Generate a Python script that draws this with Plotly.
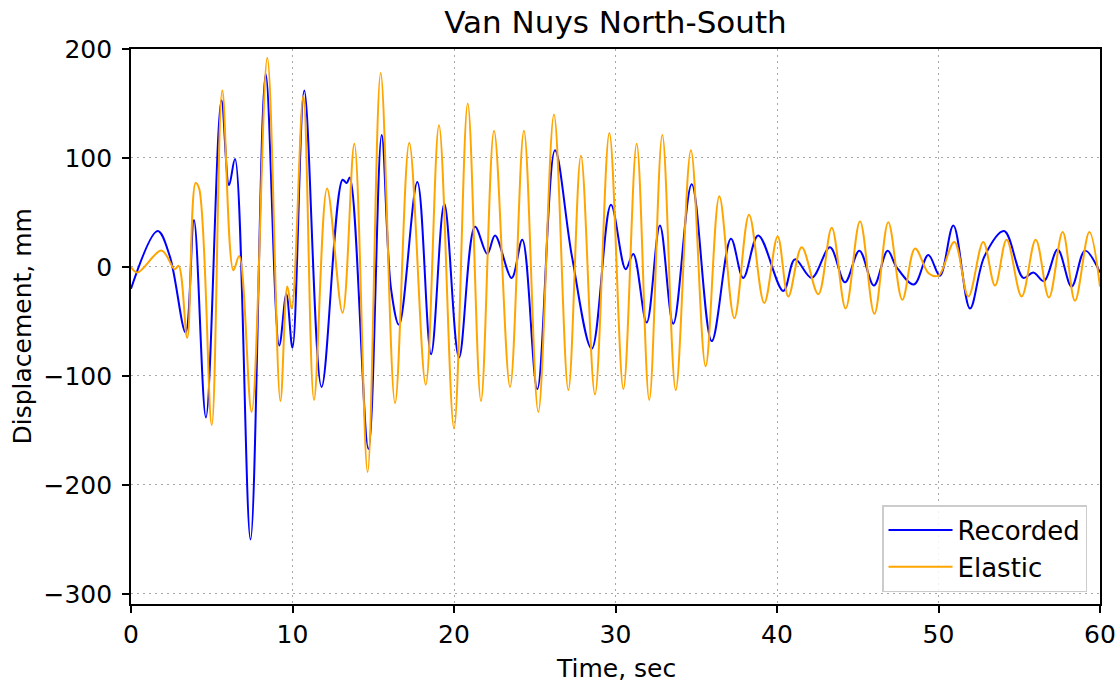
import plotly.graph_objects as go

# Recorded (blue) displacement: time (s) and value (mm)
rec_t = [0.0, 1.65, 2.4, 3.38, 3.9, 4.64, 5.6, 6.07, 6.44, 7.4, 8.34, 9.18, 9.62, 10.0,
         10.73, 11.8, 13.1, 13.35, 13.55, 14.7, 15.52, 16.1, 16.6, 17.73, 18.58, 19.4,
         20.31, 21.3, 22.06, 22.54, 23.57, 24.23, 25.16, 26.25, 27.3, 28.53, 29.72,
         30.63, 31.1, 31.93, 32.75, 33.58, 34.72, 35.96, 37.15, 37.91, 38.84, 40.39,
         41.11, 42.15, 43.28, 44.21, 45.1, 46.0, 46.85, 47.4, 48.48, 49.37, 50.09,
         50.92, 51.95, 52.85, 54.06, 55.25, 55.87, 56.53, 57.38, 58.24, 59.07, 60.0]
rec_v = [-20, 33, 10, -60, 43, -138, 153, 75, 99, -250, 177, -72, -25, -74,
         162, -110, 80, 77, 82, -167, 121, -20, -53, 78, -80, 58,
         -83, 37, 12, 29, -10, 25, -112, 107, 10, -75, 57,
         -2, 12, -51, 38, -52, 76, -68, 26, -10, 29, -22,
         7, -10, 18, -14, 15, -17, 15, 0, -16, 11, -8,
         38, -38, 10, 33, -10, -5, -13, 16, -18, 15, -5]

# Elastic (orange) displacement
ela_t = [0.0, 0.4, 1.9, 2.7, 2.95, 3.48, 4.0, 4.22, 5.0, 5.65, 6.34, 6.7, 7.47, 8.44,
         9.25, 9.68, 9.95, 10.67, 11.33, 12.14, 13.1, 13.83, 14.65, 15.46, 16.35,
         17.23, 18.25, 19.07, 20.0, 20.85, 21.67, 22.48, 23.47, 24.33, 25.22, 26.19,
         27.08, 27.86, 28.73, 29.62, 30.49, 31.31, 32.09, 32.9, 33.73, 34.67, 35.58,
         36.43, 37.36, 38.27, 39.21, 40.04, 40.7, 41.53, 42.56, 43.39, 44.25, 45.14,
         46.03, 46.89, 47.76, 48.55, 49.4, 50.0, 50.98, 51.85, 52.77, 53.5, 54.22,
         55.15, 56.02, 56.84, 57.69, 58.45, 59.34, 60.0]
ela_v = [0, -5, 15, -2, 1, -65, 77, 72, -145, 162, -3, 10, -133, 192,
         -123, -18, -38, 157, -122, 72, -42, 113, -188, 178, -125,
         114, -108, 130, -148, 150, -123, 125, -110, 125, -133, 140,
         -113, 102, -117, 123, -112, 113, -122, 121, -113, 107, -91,
         65, -47, 48, -33, 28, -27, 18, -25, 36, -38, 42,
         -43, 41, -30, 17, -6, -8, 23, -27, 23, -17, 25,
         -27, 25, -28, 32, -31, 32, -18]

x_ticks = [0, 10, 20, 30, 40, 50, 60]
y_ticks = [-300, -200, -100, 0, 100, 200]

FONT = "DejaVu Sans"

fig = go.Figure()
fig.add_trace(go.Scatter(x=rec_t, y=rec_v, mode="lines", name="Recorded",
                         line=dict(color="#0000ff", width=2, shape="spline", smoothing=1)))
fig.add_trace(go.Scatter(x=ela_t, y=ela_v, mode="lines", name="Elastic",
                         line=dict(color="#ffa500", width=2, shape="spline", smoothing=1)))

axis_common = dict(showline=True, linecolor="black", linewidth=1.6, mirror=True,
                   ticks="outside", ticklen=7, tickwidth=1.5, tickcolor="black",
                   showgrid=True, gridcolor="#a8a8a8", gridwidth=1.2, griddash="2px,4px",
                   zeroline=False, automargin=False,
                   tickfont=dict(family=FONT, size=25, color="black"))

fig.update_xaxes(range=[0, 60], tickvals=x_ticks, **axis_common)
fig.update_yaxes(range=[-309.2, 200], tickvals=y_ticks, ticklabelstandoff=5, **axis_common)

fig.update_layout(
    width=1116, height=684,
    margin=dict(l=131, r=16, t=49, b=80, autoexpand=False),
    paper_bgcolor="white", plot_bgcolor="white",
    font=dict(family=FONT, color="black"),
    title=dict(text="Van Nuys North-South", x=0.5, xref="paper", xanchor="center",
               y=1 - 22 / 684, yref="container", yanchor="middle",
               font=dict(family=FONT, size=31, color="black")),
    showlegend=True,
    legend=dict(x=(1087 - 131) / 969, y=(604 - 592) / 555, xanchor="right", yanchor="bottom",
                bgcolor="rgba(255,255,255,0.85)", bordercolor="#cccccc", borderwidth=1.5,
                font=dict(family=FONT, size=26, color="black"),
                itemwidth=64),
    annotations=[
        dict(text="Time, sec", xref="paper", yref="paper", x=0.5, y=-(668 - 604) / 555,
             xanchor="center", yanchor="middle", showarrow=False,
             font=dict(family=FONT, size=25, color="black")),
        dict(text="Displacement, mm", xref="paper", yref="paper", x=-(131 - 22) / 969, y=0.5,
             xanchor="center", yanchor="middle", textangle=-90, showarrow=False,
             font=dict(family=FONT, size=25, color="black")),
    ],
)

# remove the page's default body margin so the figure fills the window exactly
fig.write_html("out.html",
               config={"displayModeBar": False},
               post_script="document.body.style.margin='0';document.body.style.overflow='hidden';")
